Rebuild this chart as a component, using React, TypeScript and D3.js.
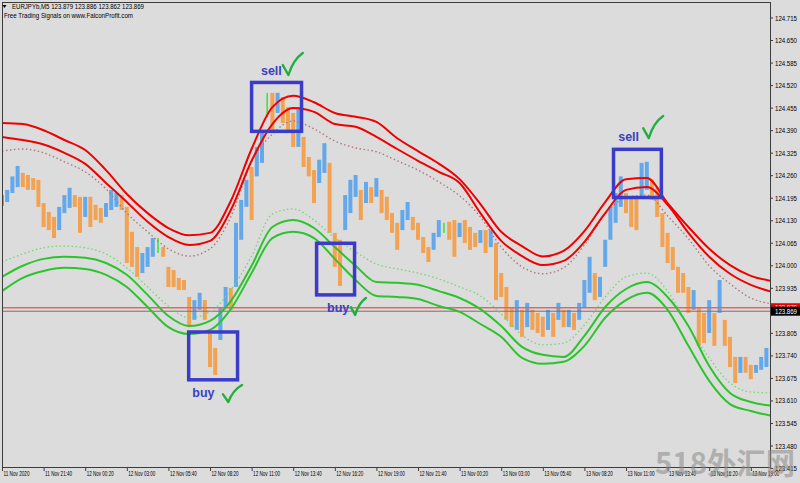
import React from 'react';
import * as d3 from 'd3';

// ---------- data ----------
const symbolLine = 'EURJPYb,M5  123.879 123.886 123.862 123.869';
const subtitle = 'Free Trading Signals on www.FalconProfit.com';
const askPrice = 123.879;
const bidPrice = 123.869;

const timeLabels = [
  '11 Nov 2020', '11 Nov 21:40', '12 Nov 00:20', '12 Nov 03:00', '12 Nov 05:40',
  '12 Nov 08:20', '12 Nov 11:00', '12 Nov 13:40', '12 Nov 16:20', '12 Nov 19:00',
  '12 Nov 21:40', '13 Nov 00:20', '13 Nov 03:00', '13 Nov 05:40', '13 Nov 08:20',
  '13 Nov 11:00', '13 Nov 13:40', '13 Nov 16:20', '13 Nov 19:00',
];

const priceTicks = [
  124.715, 124.65, 124.585, 124.52, 124.455, 124.39, 124.325, 124.26, 124.195, 124.13,
  124.065, 124.0, 123.935, 123.805, 123.74, 123.675, 123.61, 123.545, 123.48, 123.415,
];

// 20-minute bars (high / low / direction: 1 up, -1 down, 0 signal)
const barHigh = [
  124.204, 124.219, 124.258, 124.288, 124.268, 124.262, 124.253, 124.248, 124.181, 124.155,
  124.141, 124.170, 124.204, 124.225, 124.204, 124.199, 124.199, 124.199, 124.176, 124.167,
  124.181, 124.219, 124.210, 124.204, 124.170, 124.098, 124.054, 124.037, 124.054, 124.080,
  124.080, 124.054, 123.997, 123.988, 123.965, 123.959, 123.910, 123.901, 123.922, 123.901,
  123.806, 123.763, 123.881, 123.939, 123.936, 124.124, 124.190, 124.248, 124.285, 124.343,
  124.391, 124.499, 124.499, 124.499, 124.487, 124.458, 124.441, 124.458, 124.372, 124.314,
  124.276, 124.306, 124.354, 124.297, 124.095, 124.075, 124.204, 124.248, 124.262, 124.219,
  124.242, 124.227, 124.253, 124.219, 124.199, 124.152, 124.124, 124.161, 124.184, 124.141,
  124.124, 124.083, 124.054, 124.095, 124.132, 124.124, 124.127, 124.132, 124.124, 124.132,
  124.112, 124.095, 124.103, 124.103, 124.103, 124.066, 123.979, 123.939, 123.881, 123.901,
  123.873, 123.893, 123.873, 123.864, 123.853, 123.873, 123.864, 123.893, 123.873, 123.873,
  123.864, 123.893, 123.959, 124.026, 123.979, 123.968, 124.075, 124.170, 124.210, 124.258,
  124.210, 124.199, 124.199, 124.297, 124.300, 124.248, 124.227, 124.152, 124.095, 124.054,
  123.997, 123.979, 123.939, 123.930, 123.881, 123.864, 123.901, 123.864, 123.959, 123.844,
  123.795, 123.737, 123.737, 123.737, 123.714, 123.714, 123.737, 123.763,
];
const barLow = [
  124.173, 124.184, 124.210, 124.227, 124.227, 124.219, 124.219, 124.170, 124.112, 124.103,
  124.080, 124.103, 124.152, 124.167, 124.170, 124.095, 124.141, 124.112, 124.132, 124.124,
  124.141, 124.161, 124.170, 124.161, 124.008, 123.997, 123.968, 123.979, 123.997, 124.026,
  124.037, 124.026, 123.939, 123.939, 123.930, 123.930, 123.823, 123.844, 123.873, 123.844,
  123.708, 123.685, 123.786, 123.881, 123.873, 123.939, 124.075, 124.170, 124.132, 124.258,
  124.297, 124.429, 124.391, 124.441, 124.412, 124.391, 124.343, 124.343, 124.285, 124.258,
  124.181, 124.239, 124.268, 124.095, 123.997, 123.942, 124.103, 124.152, 124.199, 124.132,
  124.181, 124.181, 124.199, 124.152, 124.132, 124.095, 124.046, 124.103, 124.132, 124.103,
  124.075, 124.037, 124.011, 124.046, 124.083, 124.095, 124.075, 124.026, 124.083, 124.066,
  124.046, 124.054, 124.066, 124.037, 124.054, 123.901, 123.910, 123.844, 123.823, 123.815,
  123.795, 123.823, 123.815, 123.806, 123.795, 123.815, 123.795, 123.844, 123.823, 123.823,
  123.815, 123.844, 123.881, 123.922, 123.901, 123.910, 123.997, 124.075, 124.124, 124.170,
  124.152, 124.112, 124.103, 124.199, 124.219, 124.190, 124.141, 124.054, 124.008, 123.988,
  123.922, 123.922, 123.864, 123.873, 123.769, 123.777, 123.806, 123.769, 123.864, 123.769,
  123.708, 123.662, 123.691, 123.691, 123.673, 123.691, 123.700, 123.708,
];
const barDir = [
  1, 1, 1, 1, -1, -1, -1, -1, -1, -1,
  -1, 1, 1, 1, -1, -1, 1, -1, -1, -1,
  1, 1, 1, -1, -1, -1, -1, 1, 1, 1,
  0, -1, -1, -1, -1, -1, -1, 1, 1, -1,
  -1, -1, 1, 1, -1, 1, 1, 1, -1, 1,
  1, 0, -1, 1, -1, -1, -1, 1, -1, -1,
  -1, 1, 1, -1, -1, -1, 1, 1, 1, -1,
  1, -1, 1, -1, -1, -1, -1, 1, 1, -1,
  -1, -1, -1, 1, 1, 0, -1, -1, 1, -1,
  -1, -1, 1, -1, 1, -1, -1, -1, -1, 1,
  -1, 1, -1, -1, -1, 1, -1, 1, -1, 1,
  -1, 1, 1, 1, -1, 1, 1, 1, 1, 1,
  -1, -1, -1, 1, 1, -1, -1, -1, -1, -1,
  -1, -1, -1, 1, -1, -1, 1, -1, 1, -1,
  -1, -1, 1, -1, -1, 1, 1, 1,
];

// band lines, one value every 4 bars
const redOuter = [
  124.412, 124.409, 124.391, 124.363, 124.334, 124.276, 124.207, 124.152, 124.109, 124.088,
  124.095, 124.187, 124.337, 124.458, 124.491, 124.472, 124.441, 124.430, 124.415, 124.368,
  124.331, 124.295, 124.250, 124.178, 124.098, 124.057, 124.027, 124.043, 124.100, 124.184,
  124.250, 124.253, 124.181, 124.112, 124.049, 124.002, 123.971, 123.956,
];
const redInner = [
  124.372, 124.363, 124.350, 124.326, 124.294, 124.239, 124.184, 124.127, 124.083, 124.060,
  124.072, 124.161, 124.303, 124.409, 124.455, 124.444, 124.409, 124.401, 124.372, 124.337,
  124.303, 124.271, 124.239, 124.152, 124.072, 124.028, 124.002, 124.014, 124.069, 124.152,
  124.219, 124.227, 124.176, 124.095, 124.026, 123.977, 123.945, 123.925,
];
const redDotted = [
  124.331, 124.337, 124.326, 124.300, 124.271, 124.222, 124.152, 124.098, 124.049, 124.028,
  124.049, 124.141, 124.300, 124.380, 124.418, 124.395, 124.360, 124.340, 124.329, 124.303,
  124.276, 124.242, 124.202, 124.141, 124.054, 123.997, 123.977, 123.994, 124.060, 124.150,
  124.196, 124.204, 124.144, 124.078, 124.000, 123.948, 123.907, 123.890,
];
const greenDotted = [
  124.011, 124.034, 124.052, 124.057, 124.052, 124.034, 123.994, 123.939, 123.884, 123.850,
  123.867, 123.930, 124.028, 124.150, 124.164, 124.132, 124.080, 124.040, 124.005, 123.991,
  123.979, 123.962, 123.939, 123.913, 123.861, 123.800, 123.772, 123.777, 123.829, 123.910,
  123.968, 123.979, 123.927, 123.826, 123.734, 123.662, 123.636, 123.633,
];
const greenInner = [
  123.968, 124.000, 124.020, 124.026, 124.023, 124.008, 123.974, 123.916, 123.855, 123.826,
  123.841, 123.898, 124.000, 124.112, 124.132, 124.109, 124.054, 124.000, 123.953, 123.951,
  123.945, 123.927, 123.907, 123.875, 123.826, 123.766, 123.743, 123.737, 123.798, 123.881,
  123.933, 123.953, 123.910, 123.826, 123.711, 123.633, 123.607, 123.596,
];
const greenOuter = [
  123.927, 123.965, 123.985, 123.994, 123.991, 123.974, 123.939, 123.881, 123.823, 123.803,
  123.815, 123.875, 123.979, 124.080, 124.098, 124.080, 124.020, 123.959, 123.913, 123.910,
  123.904, 123.884, 123.867, 123.832, 123.795, 123.734, 123.717, 123.723, 123.769, 123.850,
  123.901, 123.922, 123.873, 123.769, 123.668, 123.601, 123.581, 123.567,
];

// annotations: box in bar-index / price units, label and check anchors likewise
const signals = [
  { text: 'sell', i0: 48.0, i1: 57.6, hi: 124.529, lo: 124.388, ti: 49.8, tp: 124.551, ci: 54.0, cp: 124.614, cw: 20, ch: 22 },
  { text: 'buy', i0: 35.9, i1: 45.3, hi: 123.809, lo: 123.671, ti: 36.6, tp: 123.622, ci: 42.5, cp: 123.656, cw: 19, ch: 17 },
  { text: 'buy', i0: 60.5, i1: 67.8, hi: 124.065, lo: 123.916, ti: 62.5, tp: 123.867, ci: 67.1, cp: 123.907, cw: 15, ch: 17 },
  { text: 'sell', i0: 117.6, i1: 126.8, hi: 124.336, lo: 124.197, ti: 118.5, tp: 124.36, ci: 123.3, cp: 124.432, cw: 20, ch: 22 },
];

// ---------- layout ----------
const W = 800;
const H = 483;
const L = 2;
const R = 770;
const T = 2;
const B = 467.5;
const BAND_STEP = 4;
const TICK_STEP = 8;
const FONT = "'Liberation Sans', 'DejaVu Sans', sans-serif";

export default function App() {
  const x = d3.scaleLinear().domain([0, barHigh.length - 1]).range([2, 766.4]);
  const y = d3.scaleLinear().domain([123.48, 124.715]).range([446, 18]);

  const line = d3
    .line<number>()
    .x((_, k) => x(k * BAND_STEP))
    .y((v) => y(v))
    .curve(d3.curveMonotoneX);

  const barColor = (d: number) => (d > 0 ? '#64a8ec' : d < 0 ? '#f2a250' : '#3ee63e');

  const checkPath = (cx: number, cy: number, w: number, h: number) =>
    `M ${cx},${cy + h * 0.55} L ${cx + w * 0.28},${cy + h} Q ${cx + w * 0.52},${cy + h * 0.3} ${cx + w},${cy}`;

  return (
    <svg
      width={W}
      height={H}
      viewBox={`0 0 ${W} ${H}`}
      style={{ position: 'absolute', left: 0, top: 0, display: 'block', background: '#dcdcdc' }}
    >
      <defs>
        <clipPath id="plot">
          <rect x={L} y={T} width={R - L} height={B - T} />
        </clipPath>
      </defs>
      <rect x={0} y={0} width={W} height={H} fill="#dcdcdc" />

      <g clipPath="url(#plot)">
        {/* price bars */}
        {barHigh.map((h, i) => {
          const w = barDir[i] === 0 ? 1.6 : 4;
          return (
            <rect
              key={i}
              x={x(i) - w / 2}
              y={y(h)}
              width={w}
              height={Math.max(1, y(barLow[i]) - y(h))}
              fill={barColor(barDir[i])}
            />
          );
        })}

        {/* bid / ask lines */}
        <line x1={L} x2={R} y1={y(askPrice)} y2={y(askPrice)} stroke="#f06060" strokeWidth={1.5} />
        <line x1={L} x2={R} y1={y(bidPrice)} y2={y(bidPrice)} stroke="#707070" strokeWidth={1} />

        {/* bands */}
        <path d={line(redDotted) || ''} fill="none" stroke="#b07878" strokeWidth={1.4} strokeDasharray="1.5,2.5" />
        <path d={line(greenDotted) || ''} fill="none" stroke="#72d872" strokeWidth={1.3} strokeDasharray="1.5,2.5" />
        <path d={line(redOuter) || ''} fill="none" stroke="#f00000" strokeWidth={2} />
        <path d={line(redInner) || ''} fill="none" stroke="#f00000" strokeWidth={2} />
        <path d={line(greenInner) || ''} fill="none" stroke="#2cc42c" strokeWidth={2} />
        <path d={line(greenOuter) || ''} fill="none" stroke="#2cc42c" strokeWidth={2} />
      </g>

      {/* signal annotations */}
      {signals.map((s, k) => (
        <g key={k}>
          <rect
            x={x(s.i0)}
            y={y(s.hi)}
            width={x(s.i1) - x(s.i0)}
            height={y(s.lo) - y(s.hi)}
            fill="none"
            stroke="#3a3cc8"
            strokeWidth={3.5}
          />
          <text x={x(s.ti)} y={y(s.tp)} fontFamily={FONT} fontWeight="bold" fontSize={12.5} fill="#3b3fc4">
            {s.text}
          </text>
          <path
            d={checkPath(x(s.ci), y(s.cp), s.cw, s.ch)}
            fill="none"
            stroke="#20b040"
            strokeWidth={2.4}
            strokeLinecap="round"
            strokeLinejoin="round"
          />
        </g>
      ))}

      {/* frame */}
      <rect x={L + 0.5} y={T + 0.5} width={R - L} height={B - T - 0.5} fill="none" stroke="#3c3c3c" strokeWidth={1} />

      {/* header */}
      <path d="M 2.5,5 L 6.5,5 L 4.5,8 Z" fill="#000" />
      <text x={12} y={9} fontFamily={FONT} fontSize={6.6} fill="#000" textLength={132} lengthAdjust="spacingAndGlyphs">
        {symbolLine}
      </text>
      <text x={4} y={18} fontFamily={FONT} fontSize={6.6} fill="#000" textLength={129} lengthAdjust="spacingAndGlyphs">
        {subtitle}
      </text>

      {/* price axis */}
      {priceTicks.map((p) => (
        <g key={p}>
          <line x1={R} x2={R + 3} y1={y(p)} y2={y(p)} stroke="#3c3c3c" />
          <text
            x={775}
            y={y(p) + 2.5}
            fontFamily={FONT}
            fontSize={7}
            fill="#000"
            textLength={22}
            lengthAdjust="spacingAndGlyphs"
          >
            {p.toFixed(3)}
          </text>
        </g>
      ))}
      {/* ask / bid price labels */}
      <rect x={R + 1} y={y(askPrice) - 4.5} width={W - R - 1} height={9} fill="#f00000" />
      <text x={775} y={y(askPrice) + 2.5} fontFamily={FONT} fontSize={7} fill="#fff" textLength={22} lengthAdjust="spacingAndGlyphs">
        {askPrice.toFixed(3)}
      </text>
      <rect x={R + 1} y={y(bidPrice) - 4.5} width={W - R - 1} height={9} fill="#000" />
      <text x={775} y={y(bidPrice) + 2.5} fontFamily={FONT} fontSize={7} fill="#fff" textLength={22} lengthAdjust="spacingAndGlyphs">
        {bidPrice.toFixed(3)}
      </text>

      {/* time axis */}
      {timeLabels.map((t, k) => {
        const tx = x(k * TICK_STEP);
        return (
          <g key={t}>
            <line x1={tx + 0.5} x2={tx + 0.5} y1={B} y2={B + 3.5} stroke="#3c3c3c" />
            <text
              x={tx + 1.5}
              y={476}
              fontFamily={FONT}
              fontSize={7}
              fill="#000"
              textLength={k === 0 ? 26 : 27}
              lengthAdjust="spacingAndGlyphs"
            >
              {t}
            </text>
          </g>
        );
      })}

      {/* watermark */}
      <text
        x={655}
        y={474}
        fontFamily="'Noto Sans CJK SC', sans-serif"
        fontWeight="bold"
        fontSize={30}
        fill="#8c8c8c"
        opacity={0.55}
        textLength={140}
        lengthAdjust="spacingAndGlyphs"
      >
        518外汇网
      </text>
    </svg>
  );
}
